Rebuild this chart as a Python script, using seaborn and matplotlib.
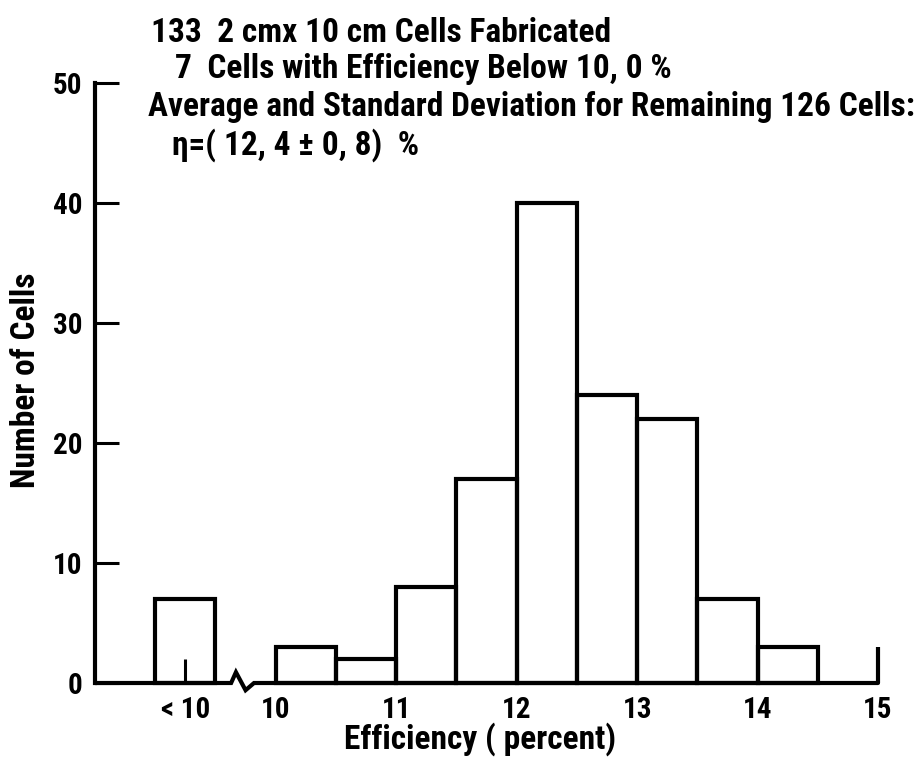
import matplotlib
matplotlib.use("Agg")
import matplotlib.pyplot as plt
from matplotlib import font_manager
import numpy as np
import seaborn as sns

# Cell efficiency distribution (counts per 0.5 % bin)
low_label = "< 10"
low_count = 7
bin_edges = [10.0, 10.5, 11.0, 11.5, 12.0, 12.5, 13.0, 13.5, 14.0, 14.5]
bin_counts = [3, 2, 8, 17, 40, 24, 22, 7, 3]

x_tick_values = [10, 11, 12, 13, 14, 15]
y_tick_values = [0, 10, 20, 30, 40, 50]

header_lines = [
    "133  2 cmx 10 cm Cells Fabricated",
    "7  Cells with Efficiency Below 10, 0 %",
    "Average and Standard Deviation for Remaining 126 Cells:",
    "η=( 12, 4 ± 0, 8)  %",
]
x_label = "Efficiency ( percent)"
y_label = "Number of Cells"

sns.set_theme(style="white")

# narrow typeface if one is available, otherwise condensed DejaVu
installed = {f.name for f in font_manager.fontManager.ttflist}
narrow = None
for name in ["Roboto Condensed", "Liberation Sans Narrow", "Open Sans Condensed"]:
    if name in installed:
        narrow = name
        break
if narrow is not None:
    plt.rcParams["font.family"] = [narrow, "DejaVu Sans"]
    plt.rcParams["font.stretch"] = "normal"
    header_fs, tick_fs, label_fs = 24, 21, 24
else:
    plt.rcParams["font.family"] = ["DejaVu Sans"]
    plt.rcParams["font.stretch"] = "condensed"
    header_fs, tick_fs, label_fs = 18.8, 18, 19
plt.rcParams["font.weight"] = "bold"
plt.rcParams["axes.labelweight"] = "bold"

W, H = 918, 764
fig = plt.figure(figsize=(W / 100, H / 100), dpi=100)
fig.patch.set_facecolor("white")
ax = fig.add_axes([95 / W, (H - 683) / H, (878 - 95) / W, 600 / H])
ax.set_facecolor("white")

lw = 3.0
centers = np.array(bin_edges[:-1]) + 0.25

# main bins 10.0 - 14.5
sns.histplot(x=centers, weights=bin_counts, bins=bin_edges, fill=False,
             element="bars", color="black", linewidth=lw, ax=ax)
# the "below 10 %" group, shown as its own bar left of the axis break
low_pos = 9.25
sns.histplot(x=[low_pos], weights=[low_count], bins=[9.0, 9.5], fill=False,
             element="bars", color="black", linewidth=lw, ax=ax)
for p in ax.patches:
    p.set_clip_on(False)
    p.set_edgecolor("black")

ax.set_xlim(8.5, 15)
ax.set_ylim(0, 50)

# baseline with a zig-zag break between the "<10" group and the 10 % bin
bx = [8.5, 9.63, 9.67, 9.75, 9.82, 15.0]
by = [0, 0, 0.9, -0.6, 0, 0]
ax.plot(bx, by, color="black", lw=lw, clip_on=False, solid_joinstyle="miter")

for side in ["top", "right", "bottom"]:
    ax.spines[side].set_visible(False)
ax.spines["left"].set_color("black")
ax.spines["left"].set_linewidth(lw)

ax.set_xticks([low_pos] + x_tick_values)
ax.set_xticklabels([low_label] + [str(v) for v in x_tick_values])
ax.set_yticks(y_tick_values)
ax.set_yticklabels([str(v) for v in y_tick_values])
ax.tick_params(axis="both", direction="in", length=17, width=2.2,
               color="black", labelsize=tick_fs, labelcolor="black", pad=9)
ax.tick_params(axis="x", bottom=True)
ax.tick_params(axis="y", left=True)
for lab in ax.get_xticklabels() + ax.get_yticklabels():
    lab.set_fontweight("bold")
ax.xaxis.get_major_ticks()[-1].tick1line.set_markersize(26)
ax.xaxis.get_major_ticks()[-1].tick1line.set_markeredgewidth(lw)

ax.set_xlabel(x_label, fontsize=label_fs, color="black", ha="center", va="center")
ax.xaxis.set_label_coords((480 - 95) / 783, (683 - 739) / 600)
ax.set_ylabel(y_label, fontsize=label_fs, color="black", ha="center", va="center")
ax.yaxis.set_label_coords((26 - 95) / 783, (683 - 380) / 600)

header_x = [151, 175, 148, 172]
header_base = [42, 78, 116, 155]
for txt, xp, yp in zip(header_lines, header_x, header_base):
    fig.text(xp / W, 1 - yp / H, txt, fontsize=header_fs, color="black",
             ha="left", va="baseline")

fig.savefig("out.png", dpi=100, facecolor="white")
